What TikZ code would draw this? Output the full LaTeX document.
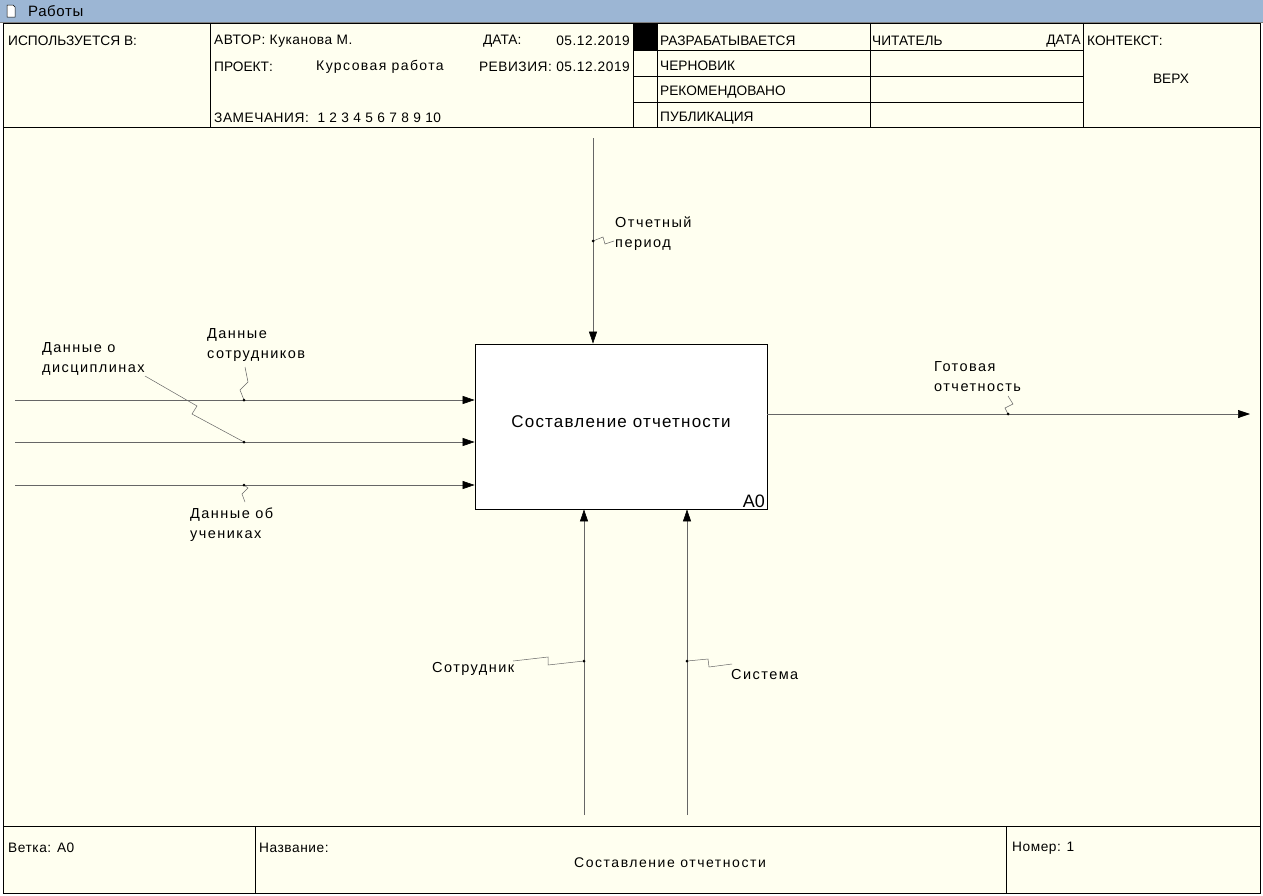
\documentclass[tikz,border=0pt]{standalone}
\usepackage{fontspec}
\setmainfont{Liberation Sans}
\newfontfamily\lblfont[LetterSpace=10]{Liberation Sans}
\newfontfamily\hdrlfont[LetterSpace=4]{Liberation Sans}
\newfontfamily\titlefont[LetterSpace=7]{Liberation Sans}
\newfontfamily\widefont[LetterSpace=11]{Liberation Sans}
\usetikzlibrary{arrows.meta}
\definecolor{cream}{HTML}{FFFFF0}
\definecolor{barblue}{HTML}{9CB6D4}
\definecolor{arrgray}{HTML}{666666}
\tikzset{
  hdr/.style={anchor=west,inner sep=0pt,font=\fontsize{13.7}{15}\selectfont},
  hdrl/.style={anchor=west,inner sep=0pt,font=\hdrlfont\fontsize{13.7}{15}\selectfont},
  lbl/.style={anchor=west,inner sep=0pt,align=left,font=\lblfont\fontsize{14.5}{20}\selectfont},
  grid/.style={draw=black,line width=0.8pt},
  flow/.style={draw=arrgray,line width=0.6pt},
  arr/.style={flow,-{Triangle[length=12pt,width=8pt,color=black]}},
  sq/.style={draw=arrgray,line width=0.5pt},
  dotc/.style={circle,fill=black,inner sep=0pt,minimum size=3pt},
}
\begin{document}
\begin{tikzpicture}[x=1pt,y=-1pt]
\useasboundingbox (0,0) rectangle (1263,895);
% title bar
\fill[barblue] (0,0) rectangle (1263,22);
\draw[gray,line width=0.6pt] (0,22) -- (1263,22);
\draw[black,line width=0.5pt,fill=white] (7,5) -- (13,5) -- (15,7) -- (15,17) -- (7,17) -- cycle;
\node[hdr,font=\hdrlfont\fontsize{15}{17}\selectfont] (bartitle) at (28,11) {Работы};
% frame
\fill[cream] (3,23) rectangle (1260,893);
\draw[grid] (3,23) rectangle (1260,893);
% header grid
\draw[grid] (3,127) -- (1260,127);
\draw[grid] (210,23) -- (210,127);
\draw[grid] (633,23) -- (633,127);
\draw[grid] (657,23) -- (657,127);
\draw[grid] (870,23) -- (870,127);
\draw[grid] (1083,23) -- (1083,127);
\draw[grid] (633,50) -- (1083,50);
\draw[grid] (633,76) -- (1083,76);
\draw[grid] (633,102) -- (1083,102);
\fill[black] (633,23) rectangle (657,50);
% header texts
\node[hdr] (used) at (8,41) {ИСПОЛЬЗУЕТСЯ В:};
\node[hdrl] (author) at (214,41) {АВТОР: Куканова М.};
\node[hdr] (date) at (483,41) {ДАТА:};
\node[hdrl,anchor=east] (dateval) at (630,41) {05.12.2019};
\node[hdr] (proj) at (214,67) {ПРОЕКТ:};
\node[hdr,font=\lblfont\fontsize{14}{16}\selectfont] (projval) at (316,67) {Курсовая работа};
\node[hdrl,anchor=east] (rev) at (630,67) {РЕВИЗИЯ: 05.12.2019};
\node[hdrl] (notes) at (214,118) {ЗАМЕЧАНИЯ:\ \ 1 2 3 4 5 6 7 8 9 10};
\node[hdr] (s1) at (660,41) {РАЗРАБАТЫВАЕТСЯ};
\node[hdr] (s2) at (660,66) {ЧЕРНОВИК};
\node[hdr] (s3) at (660,92) {РЕКОМЕНДОВАНО};
\node[hdr] (s4) at (660,118) {ПУБЛИКАЦИЯ};
\node[hdr] (reader) at (872,41) {ЧИТАТЕЛЬ};
\node[hdr,anchor=east] (rdate) at (1081,41) {ДАТА};
\node[hdr] (ctx) at (1087,41) {КОНТЕКСТ:};
\node[hdr,anchor=center] (top) at (1171,79) {ВЕРХ};
% footer
\draw[grid] (3,826) -- (1260,826);
\draw[grid] (255,826) -- (255,893);
\draw[grid] (1006,826) -- (1006,893);
\node[hdrl] (branch) at (8,848) {Ветка: A0};
\node[hdrl] (name) at (259,848) {Название:};
\node[hdr,anchor=center,font=\widefont\fontsize{14}{16}\selectfont] (nameval) at (670,863) {Составление отчетности};
\node[hdrl] (num) at (1012,848) {Номер: 1};
% activity box
\node[draw=black,line width=0.8pt,fill=white,minimum width=292pt,minimum height=165pt,inner sep=0pt] (box) at (621,426.5) {};
\node[font=\titlefont\fontsize{17}{19}\selectfont,inner sep=0pt] (boxtitle) at (621,422) {Составление отчетности};
\node[anchor=south east,inner sep=0pt,font=\fontsize{18}{20}\selectfont] (boxid) at (765,508) {A0};
% control
\coordinate (c0) at (593,138);
\draw[arr] (c0) -- (c0 |- box.north);
\coordinate (cd) at (593,241);
\node[lbl] (clbl) at (615,234) {Отчетный\\период};
\draw[sq] (cd) -- (603,237) -- (605,244) -- (614,241);
\node[dotc] at (cd) {};
% inputs
\coordinate (i1) at (15,400);
\coordinate (i2) at (15,442);
\coordinate (i3) at (15,485);
\draw[arr] (i1) -- (i1 -| box.west);
\draw[arr] (i2) -- (i2 -| box.west);
\draw[arr] (i3) -- (i3 -| box.west);
\node[lbl] (l1) at (207,345) {Данные\\сотрудников};
\coordinate (d1) at (244,400);
\draw[sq] (d1) -- (240,390) -- (248,382) -- (245,367);
\node[dotc] at (d1) {};
\node[lbl] (l2) at (42,359) {Данные о\\дисциплинах};
\coordinate (d2) at (244,442);
\draw[sq] (145,376) -- (197,406) -- (192,414) -- (d2);
\node[dotc] at (d2) {};
\node[lbl] (l3) at (190,525) {Данные об\\учениках};
\coordinate (d3) at (244,485);
\draw[sq] (d3) -- (248,488) -- (242,494) -- (245,502);
\node[dotc] at (d3) {};
% output
\coordinate (o1) at (1250,414);
\draw[arr] (box.east |- o1) -- (o1);
\node[lbl] (lo) at (934,377) {Готовая\\отчетность};
\coordinate (dout) at (1008,414);
\draw[sq] (dout) -- (1005,408) -- (1013,404) -- (1008,396);
\node[dotc] at (dout) {};
% mechanisms
\coordinate (m1) at (584,815);
\coordinate (m2) at (687,815);
\draw[arr] (m1) -- (m1 |- box.south);
\draw[arr] (m2) -- (m2 |- box.south);
\node[lbl] (lm1) at (432,669) {Сотрудник};
\coordinate (dm1) at (584,661);
\draw[sq] (dm1) -- (548,665) -- (548,657) -- (513,661);
\node[dotc] at (dm1) {};
\node[lbl] (lm2) at (731,674) {Система};
\coordinate (dm2) at (687,661);
\draw[sq] (dm2) -- (708,659) -- (709,667) -- (732,664);
\node[dotc] at (dm2) {};
\end{tikzpicture}
\end{document}
